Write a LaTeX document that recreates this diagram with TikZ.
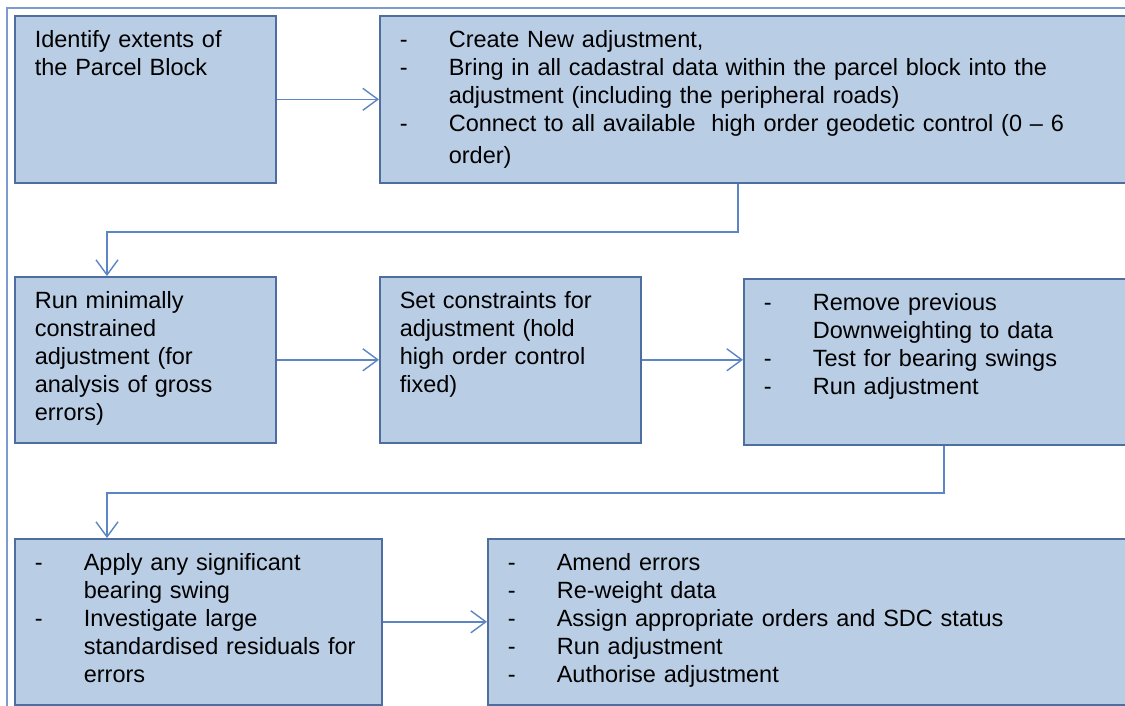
\documentclass[tikz,border=0pt]{standalone}
\usepackage{fontspec}
\setmainfont{Liberation Sans}
\usetikzlibrary{arrows.meta}

\definecolor{boxfill}{RGB}{185,205,229}
\definecolor{boxline}{RGB}{79,110,160}
\definecolor{flowline}{RGB}{91,133,196}
\definecolor{frameline}{RGB}{125,155,205}

%% one line of a box: with a dash, continued, or plain
\newcommand\dashline[1]{\noindent\makebox[49pt][l]{-}#1\par}
\newcommand\moreline[1]{\noindent\hspace*{49pt}#1\par}
\newcommand\txtline[1]{\noindent#1\par}

\tikzset{
  stepbox/.style={draw=boxline, fill=boxfill, line width=1.6pt, anchor=north west,
    inner xsep=20pt, inner ysep=0pt, text height=32pt,
    font=\fontsize{23.5}{28}\selectfont},
  flow/.style={draw=flowline, line width=1.4pt,
    -{Straight Barb[length=15pt,width=22pt,line width=1.4pt]}}
}

\begin{document}
\begin{tikzpicture}[x=1pt, y=-1pt]

\useasboundingbox (0,0) rectangle (1125,705);

%% outer frame
\draw[frameline, line width=1.2pt] (7,8) rectangle (1140,720);

%% first row
\node[stepbox, text width=221pt, text depth=135pt] (ident) at (14,15)
  {\txtline{Identify extents of}
   \txtline{the Parcel Block}};
\node[stepbox, text width=715pt, text depth=135pt] (create) at (379,15)
  {\dashline{Create New adjustment,}
   \dashline{Bring in all cadastral data within the parcel block into the}
   \moreline{adjustment (including the peripheral roads)}
   \dashline{Connect to all available\ \ high order geodetic control (0 -- 6}
   \vspace{4pt}
   \moreline{order)}};

%% second row
\node[stepbox, text width=221pt, text depth=134pt] (minimal) at (14,276)
  {\txtline{Run minimally}
   \txtline{constrained}
   \txtline{adjustment (for}
   \txtline{analysis of gross}
   \txtline{errors)}};
\node[stepbox, text width=221pt, text depth=134pt] (setcon) at (379,276)
  {\txtline{Set constraints for}
   \txtline{adjustment (hold}
   \txtline{high order control}
   \txtline{fixed)}};
\node[stepbox, text width=350pt, text depth=134pt] (remove) at (743,278)
  {\dashline{Remove previous}
   \moreline{Downweighting to data}
   \dashline{Test for bearing swings}
   \dashline{Run adjustment}};

%% third row
\node[stepbox, text width=327pt, text depth=134pt] (apply) at (14,538)
  {\dashline{Apply any significant}
   \moreline{bearing swing}
   \dashline{Investigate large}
   \moreline{standardised residuals for}
   \moreline{errors}};
\node[stepbox, text width=610pt, text depth=134pt] (amend) at (487,538)
  {\dashline{Amend errors}
   \dashline{Re-weight data}
   \dashline{Assign appropriate orders and SDC status}
   \dashline{Run adjustment}
   \dashline{Authorise adjustment}};

%% connectors
\coordinate (bendA) at (738,232);
\coordinate (bendB) at (107,232);
\coordinate (bendC) at (944,493);
\coordinate (bendD) at (107,493);

\draw[flow] (ident.east) -- (ident.east -| create.west);
\draw[flow] (create.south -| bendA) -- (bendA) -- (bendB) -- (bendB |- minimal.north);
\draw[flow] (minimal.east) -- (minimal.east -| setcon.west);
\draw[flow] (setcon.east) -- (setcon.east -| remove.west);
\draw[flow] (remove.south -| bendC) -- (bendC) -- (bendD) -- (bendD |- apply.north);
\draw[flow] (apply.east) -- (apply.east -| amend.west);

\end{tikzpicture}
\end{document}
